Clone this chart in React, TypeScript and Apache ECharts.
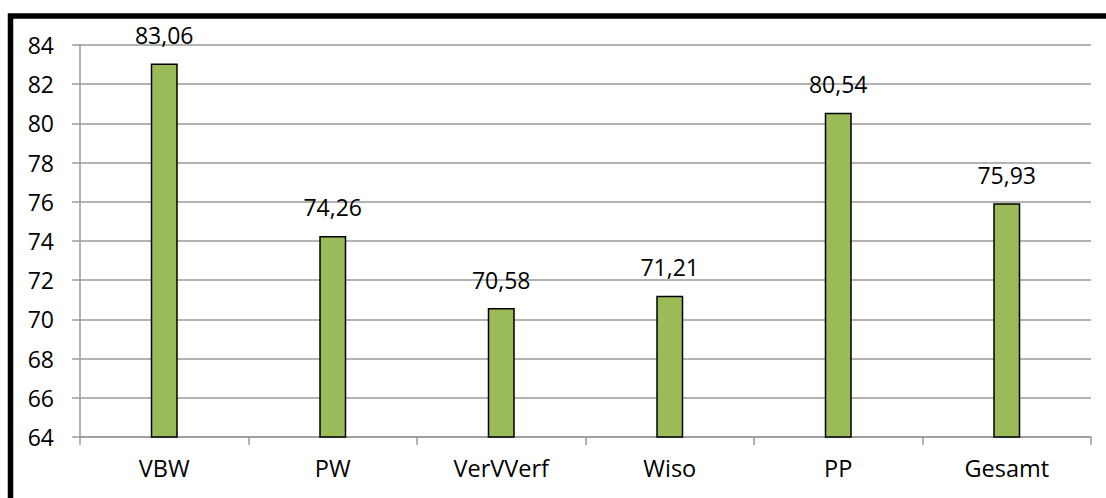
import React, { useEffect, useRef } from "react";
import * as echarts from "echarts";

const categories = ["VBW", "PW", "VerVVerf", "Wiso", "PP", "Gesamt"];
const values = [83.06, 74.26, 70.58, 71.21, 80.54, 75.93];
const yMin = 64;
const yMax = 84;
const yStep = 2;

export default function App() {
  const ref = useRef<HTMLDivElement>(null);
  useEffect(() => {
    if (!ref.current) return;
    const chart = echarts.init(ref.current, undefined, { renderer: "svg" });
    const font = "'Open Sans', 'Liberation Sans', sans-serif";
    chart.setOption({
      animation: false,
      backgroundColor: "#ffffff",
      grid: { left: 80, right: 15, top: 45, bottom: 61, containLabel: false },
      graphic: [
        {
          type: "rect",
          shape: { x: 10.5, y: 16, width: 2000, height: 2000 },
          style: { fill: "none", stroke: "#000000", lineWidth: 5.5 },
          silent: true,
          z: 100,
        },
      ],
      xAxis: {
        type: "category",
        data: categories,
        axisLine: { show: true, lineStyle: { color: "#9a9a9a", width: 1.5 } },
        axisTick: { show: true, length: 8, lineStyle: { color: "#9a9a9a", width: 1.5 } },
        axisLabel: { color: "#000", fontSize: 23.5, fontFamily: font, margin: 19 },
      },
      yAxis: {
        type: "value",
        min: yMin,
        max: yMax,
        interval: yStep,
        axisLine: { show: true, lineStyle: { color: "#9a9a9a", width: 1.5 } },
        axisTick: { show: true, length: 8, lineStyle: { color: "#9a9a9a", width: 1.5 } },
        axisLabel: { color: "#000", fontSize: 23, fontFamily: font, margin: 26 },
        splitLine: { show: true, lineStyle: { color: "#9a9a9a", width: 1.5 } },
      },
      series: [
        {
          type: "bar",
          data: values,
          barWidth: 27,
          itemStyle: { color: "#9BBB59", borderColor: "#000000", borderWidth: 1.5 },
          label: {
            show: true,
            position: "top",
            distance: 17,
            color: "#000",
            fontSize: 23,
            fontFamily: font,
            formatter: (p: any) => Number(p.value).toFixed(2).replace(".", ","),
          },
        },
      ],
    });
    return () => chart.dispose();
  }, []);
  return (
    <div
      ref={ref}
      style={{ position: "fixed", left: 0, top: 0, width: 1106, height: 498 }}
    />
  );
}
